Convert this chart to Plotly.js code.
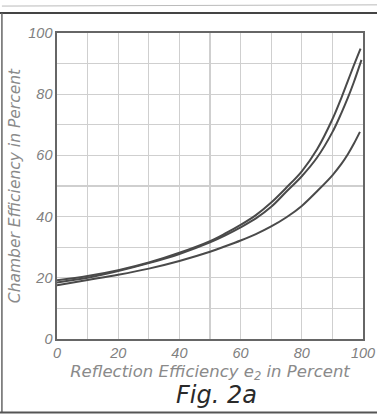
<!DOCTYPE html>
<html>
<head>
<meta charset="utf-8">
<script src="https://cdn.plot.ly/plotly-3.0.1.min.js"></script>
<style>
html,body{margin:0;padding:0;background:#fff;}
#chart{width:377px;height:417px;}
</style>
</head>
<body>
<div id="chart"></div>
<script>
// Curve A (upper)
const xA = [0, 10, 20, 30, 40, 50, 55, 60, 65, 70, 75, 80, 85, 90, 93, 95, 97, 99.2];
const yA = [19.2, 20.6, 22.5, 25.0, 28.2, 32.0, 34.5, 37.3, 40.5, 44.6, 49.5, 54.8, 62.0, 71.8, 79.0, 84.2, 89.4, 94.9];
// Curve B (middle)
const xB = [0, 10, 20, 30, 40, 50, 55, 60, 65, 70, 75, 80, 85, 90, 93, 95, 97, 99.5];
const yB = [18.5, 20.0, 22.2, 24.8, 27.8, 31.6, 33.9, 36.5, 39.4, 43.2, 48.2, 53.2, 59.3, 67.6, 74.0, 78.7, 83.9, 91.2];
// Curve C (lower)
const xC = [0, 10, 20, 30, 40, 50, 55, 60, 65, 70, 75, 80, 85, 90, 93, 95, 97, 99];
const yC = [17.6, 19.3, 21.0, 23.0, 25.5, 28.5, 30.3, 32.2, 34.3, 36.8, 39.8, 43.5, 48.3, 53.5, 57.3, 60.3, 63.8, 67.7];

const tickVals = [0, 20, 40, 60, 80, 100];
const tickText = ['0', '20', '40', '60', '80', '100'];
const xTitle = 'Reflection Efficiency e<sub>2</sub> in Percent';
const yTitle = 'Chamber Efficiency in Percent';
const figLabel = 'Fig. 2a';

const lineStyle = {color: '#4a4a4a', width: 2, shape: 'spline', smoothing: 1};
const traces = [
  {x: xA, y: yA, mode: 'lines', line: lineStyle, hoverinfo: 'skip'},
  {x: xB, y: yB, mode: 'lines', line: lineStyle, hoverinfo: 'skip'},
  {x: xC, y: yC, mode: 'lines', line: lineStyle, hoverinfo: 'skip'}
];

const tickFont = {family: 'Liberation Sans', size: 14.5, color: '#808080', style: 'italic'};

const axisCommon = {
  range: [0, 100],
  tickvals: tickVals,
  ticktext: tickText,
  tickfont: tickFont,
  showgrid: true,
  gridcolor: '#cfcfcf',
  gridwidth: 1.2,
  showline: true,
  linecolor: '#666',
  linewidth: 1.6,
  mirror: true,
  ticks: '',
  zeroline: false,
  fixedrange: true,
  minor: {showgrid: true, gridcolor: '#cfcfcf', gridwidth: 1.2, dtick: 10, tick0: 0}
};

const layout = {
  width: 377,
  height: 417,
  margin: {l: 57, r: 14, t: 33, b: 78},
  paper_bgcolor: '#ffffff',
  plot_bgcolor: '#ffffff',
  showlegend: false,
  xaxis: Object.assign({}, axisCommon, {
    title: {text: xTitle, font: {family: 'DejaVu Sans', size: 16.5, color: '#8a8a8a', style: 'italic'}, standoff: 5}
  }),
  yaxis: Object.assign({}, axisCommon, {
    title: {text: yTitle, font: {family: 'DejaVu Sans', size: 15.5, color: '#8a8a8a', style: 'italic'}, standoff: 4}
  }),
  annotations: [
    {text: figLabel, xref: 'paper', yref: 'paper', x: 0.52, y: -0.183,
     xanchor: 'center', yanchor: 'middle', showarrow: false,
     font: {family: 'DejaVu Sans', size: 24, color: '#2a2a2a', style: 'italic'}}
  ],
  shapes: [
    {type: 'line', xref: 'paper', yref: 'paper', x0: -0.19, x1: 1.05, y0: 1.065, y1: 1.065,
     line: {color: '#444', width: 2}},
    {type: 'line', xref: 'paper', yref: 'paper', x0: -0.18, x1: 1.05, y0: 1.088, y1: 1.092,
     line: {color: '#bbb', width: 1}},
    {type: 'line', xref: 'paper', yref: 'paper', x0: -0.18, x1: -0.18, y0: 1.065, y1: -0.24,
     line: {color: '#666', width: 1.5}},
    {type: 'line', xref: 'paper', yref: 'paper', x0: -0.19, x1: 1.05, y0: -0.24, y1: -0.24,
     line: {color: '#555', width: 2}}
  ]
};

Plotly.newPlot('chart', traces, layout, {staticPlot: true, displayModeBar: false});
</script>
</body>
</html>
